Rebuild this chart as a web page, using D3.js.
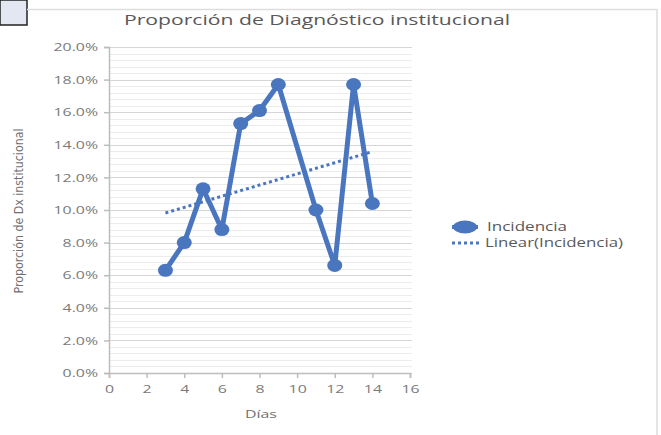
<!DOCTYPE html>
<html><head><meta charset="utf-8">
<script src="https://cdn.jsdelivr.net/npm/d3@7"></script>
<style>body{margin:0;background:#fff}svg{display:block;font-family:"Open Sans",Lato,sans-serif}</style>
</head><body><svg id="c" width="661" height="435"></svg>
<script>
const title = "Proporción de Diagnóstico institucional";
const yLabel = "Proporción  de Dx institucional";
const xLabel = "Días";
const seriesName = "Incidencia";
const trendName = "Linear(Incidencia)";
const dias = [3, 4, 5, 6, 7, 8, 9, 11, 12, 13, 14];
const incidencia = [0.063, 0.080, 0.113, 0.088, 0.153, 0.161, 0.177, 0.100, 0.066, 0.177, 0.104];
const xTicks = [0, 2, 4, 6, 8, 10, 12, 14, 16];
const yTicks = [0, 0.02, 0.04, 0.06, 0.08, 0.10, 0.12, 0.14, 0.16, 0.18, 0.20];

const svg = d3.select("#c");
const col = "#4a76bf";
const STRETCH = 1.38;
function stretch(sel, f) {
  sel.each(function(){
    const w = this.getComputedTextLength();
    d3.select(this).attr("textLength", w*(f||STRETCH)).attr("lengthAdjust","spacingAndGlyphs");
  });
}
// frame
svg.append("rect").attr("x",0).attr("y",0).attr("width",27).attr("height",25).attr("fill","#e3e7f1").attr("stroke","#222").attr("stroke-width",1.5);
svg.append("line").attr("x1",27).attr("x2",657).attr("y1",9.5).attr("y2",9.5).attr("stroke","#ddd").attr("stroke-width",1.5);
svg.append("line").attr("x1",657).attr("x2",657).attr("y1",9).attr("y2",435).attr("stroke","#ddd").attr("stroke-width",1.5);

const x = d3.scaleLinear().domain([0,16]).range([109,410]);
const y = d3.scaleLinear().domain([0,0.20]).range([373,47]);

// minor grid
const minor = d3.range(0, 0.2001, 0.004);
svg.append("g").selectAll("line").data(minor).join("line")
  .attr("x1",109).attr("x2",412).attr("y1",d=>Math.round(y(d))+0.5).attr("y2",d=>Math.round(y(d))+0.5)
  .attr("stroke","#ececec").attr("stroke-width",1);
svg.append("g").selectAll("line").data(yTicks).join("line")
  .attr("x1",109).attr("x2",412).attr("y1",d=>Math.round(y(d))+0.5).attr("y2",d=>Math.round(y(d))+0.5)
  .attr("stroke","#d6d6d6").attr("stroke-width",1.2);

// axes
const fmt = d => (d*100).toFixed(1) + "%";
const ya = svg.append("g").attr("transform","translate(109,0)")
  .call(d3.axisLeft(y).tickValues(yTicks).tickFormat(fmt).tickSize(5).tickPadding(6));
const xa = svg.append("g").attr("transform","translate(0,373)")
  .call(d3.axisBottom(x).tickValues(xTicks).tickSize(5).tickPadding(7));
[ya,xa].forEach(a=>{
  a.selectAll("path,line").attr("stroke","#bdbdbd").attr("stroke-width",1.5);
  a.selectAll("text").attr("fill","#7a7a7a").style("font-size","11.5px").style("font-family","'Open Sans',sans-serif");
  stretch(a.selectAll("text"));
});

// trend line (least squares on the data)
const mx = d3.mean(dias), my = d3.mean(incidencia);
const slope = d3.sum(dias,(d,i)=>(d-mx)*(incidencia[i]-my)) / d3.sum(dias,d=>(d-mx)*(d-mx));
const icpt = my - slope*mx;
const xs = d3.extent(dias);
svg.append("line").attr("x1",x(xs[0])).attr("x2",x(xs[1]))
  .attr("y1",y(icpt+slope*xs[0])).attr("y2",y(icpt+slope*xs[1]))
  .attr("stroke",col).attr("stroke-width",3).attr("stroke-dasharray","3,3");

// series
const pts = dias.map((d,i)=>[d,incidencia[i]]);
svg.append("path").datum(pts).attr("fill","none").attr("stroke",col).attr("stroke-width",5)
  .attr("stroke-linejoin","round")
  .attr("d", d3.line().x(d=>x(d[0])).y(d=>y(d[1])));
svg.append("g").selectAll("ellipse").data(pts).join("ellipse")
  .attr("cx",d=>x(d[0])).attr("cy",d=>y(d[1])).attr("rx",7.5).attr("ry",6.5).attr("fill",col);

// titles
const t = svg.append("text").attr("x",317).attr("y",25).attr("text-anchor","middle").attr("fill","#595959")
  .style("font-size","15px").text(title);
t.attr("textLength",386).attr("lengthAdjust","spacingAndGlyphs");
svg.append("text").attr("transform","translate(23,211) rotate(-90)").attr("text-anchor","middle")
  .attr("fill","#707070").style("font-size","12px").style("font-family","'Liberation Sans Narrow','DejaVu Sans Condensed',sans-serif")
  .attr("textLength",165).attr("lengthAdjust","spacingAndGlyphs").text(yLabel);
const xl = svg.append("text").attr("x",261).attr("y",418).attr("text-anchor","middle").attr("fill","#707070")
  .style("font-size","11.5px").text(xLabel);
stretch(xl);

// legend
const lg = svg.append("g");
lg.append("line").attr("x1",452).attr("x2",478).attr("y1",227).attr("y2",227).attr("stroke",col).attr("stroke-width",4);
lg.append("ellipse").attr("cx",465).attr("cy",227).attr("rx",12).attr("ry",6.5).attr("fill",col);
lg.append("text").attr("x",487).attr("y",231).attr("fill","#595959").style("font-size","12px")
  .attr("textLength",80).attr("lengthAdjust","spacingAndGlyphs").text(seriesName);
lg.append("line").attr("x1",452).attr("x2",481).attr("y1",243).attr("y2",243).attr("stroke",col).attr("stroke-width",3).attr("stroke-dasharray","3,3");
lg.append("text").attr("x",485).attr("y",247).attr("fill","#595959").style("font-size","12px")
  .attr("textLength",138).attr("lengthAdjust","spacingAndGlyphs").text(trendName);
</script></body></html>
